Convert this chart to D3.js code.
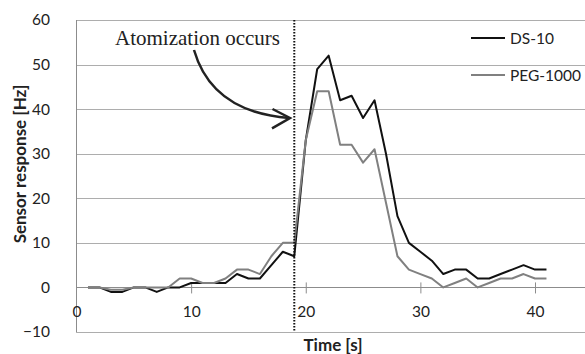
<!DOCTYPE html>
<html>
<head>
<meta charset="utf-8">
<script src="https://cdn.jsdelivr.net/npm/d3@7"></script>
<style>
  html, body { margin: 0; padding: 0; background: #fff; }
  svg { display: block; }
</style>
</head>
<body>
<svg id="chart" width="585" height="354"></svg>
<script>
// Sensor response over time for two formulations
const time = d3.range(1, 42);
const ds10 = [0, 0, -1, -1, 0, 0, -1, 0, 0, 1, 1, 1, 1, 3, 2, 2, 5, 8, 7, 33,
  49, 52, 42, 43, 38, 42, 30, 16, 10, 8, 6, 3, 4, 4, 2, 2, 3, 4, 5, 4, 4];
const peg1000 = [0, 0, -0.5, -0.5, 0, 0, 0, 0, 2, 2, 1, 1, 2, 4, 4, 3, 7, 10, 10, 33,
  44, 44, 32, 32, 28, 31, 19, 7, 4, 3, 2, 0, 1, 2, 0, 1, 2, 2, 3, 2, 2];
const seriesNames = ["DS-10", "PEG-1000"];
const seriesColors = ["#111111", "#808080"];
const xTicks = [0, 10, 20, 30, 40];
const yTicks = [-10, 0, 10, 20, 30, 40, 50, 60];
const atomizationTime = 19;

const svg = d3.select("#chart");
const plotLeft = 76.5, plotRight = 585, plotTop = 20, plotBottom = 332;

const x = d3.scaleLinear().domain([0, 40]).range([plotLeft, 535]);
const y = d3.scaleLinear().domain([-10, 60]).range([plotBottom, plotTop]);

const labelFont = "Lato, 'Open Sans', sans-serif";

// horizontal gridlines
svg.append("g")
  .selectAll("line")
  .data(yTicks)
  .join("line")
  .attr("x1", plotLeft).attr("x2", plotRight)
  .attr("y1", d => Math.round(y(d)) + 0.5).attr("y2", d => Math.round(y(d)) + 0.5)
  .attr("stroke", d => d === 0 ? "#8c8c8c" : "#adadad")
  .attr("stroke-width", 1);

// vertical axis line
svg.append("line")
  .attr("x1", plotLeft).attr("x2", plotLeft)
  .attr("y1", plotTop).attr("y2", plotBottom + 0.5)
  .attr("stroke", "#8c8c8c");

// y tick labels
const yAxis = d3.axisLeft(y).tickValues(yTicks).tickSize(0).tickPadding(0);
const gy = svg.append("g").attr("transform", "translate(50,0)").call(yAxis);
gy.select(".domain").remove();
gy.selectAll("text")
  .attr("font-family", labelFont).attr("font-size", 15.5).attr("fill", "#222");

// x axis on the zero line, ticks crossing it
const xAxis = d3.axisBottom(x).tickValues(xTicks).tickSize(0).tickFormat(d3.format("d"));
const gx = svg.append("g").attr("transform", `translate(0,${y(0)})`).call(xAxis);
gx.select(".domain").remove();
gx.selectAll("text")
  .attr("font-family", labelFont).attr("font-size", 15.5).attr("fill", "#222")
  .attr("dy", 0).attr("y", 30);
gx.selectAll(".tick")
  .filter(d => d !== 0)
  .append("line")
  .attr("y1", -5).attr("y2", 6)
  .attr("stroke", "#8c8c8c");

// axis titles
svg.append("text")
  .attr("x", 333).attr("y", 351)
  .attr("text-anchor", "middle")
  .attr("font-family", labelFont).attr("font-weight", "bold").attr("font-size", 17)
  .attr("fill", "#222")
  .text("Time [s]");

svg.append("text")
  .attr("transform", "translate(26,164) rotate(-90)")
  .attr("text-anchor", "middle")
  .attr("font-family", labelFont).attr("font-weight", "bold").attr("font-size", 17)
  .attr("fill", "#222")
  .text("Sensor response [Hz]");

// series lines
const line = d3.line().x((d, i) => x(time[i])).y(d => y(d));
[ds10, peg1000].forEach((vals, k) => {
  svg.append("path")
    .datum(vals)
    .attr("d", line)
    .attr("fill", "none")
    .attr("stroke", seriesColors[k])
    .attr("stroke-width", 2)
    .attr("stroke-linejoin", "round");
});

// atomization marker
svg.append("line")
  .attr("x1", x(atomizationTime)).attr("x2", x(atomizationTime))
  .attr("y1", plotTop).attr("y2", plotBottom)
  .attr("stroke", "#111").attr("stroke-width", 2)
  .attr("stroke-dasharray", "1.5,1.5");

svg.append("text")
  .attr("x", 115).attr("y", 45)
  .attr("font-family", "'Liberation Serif', 'Times New Roman', serif")
  .attr("font-size", 21).attr("fill", "#222")
  .text("Atomization occurs");

svg.append("path")
  .attr("d", "M194,50 Q212,112 289,118")
  .attr("fill", "none").attr("stroke", "#222").attr("stroke-width", 2.5);
svg.append("path")
  .attr("d", "M272.5,109 L290,118 L272,128.3")
  .attr("fill", "none").attr("stroke", "#222").attr("stroke-width", 2.5);

// legend
const legend = svg.append("g");
seriesNames.forEach((name, k) => {
  const ly = 38 + k * 37;
  legend.append("line")
    .attr("x1", 471).attr("x2", 505).attr("y1", ly).attr("y2", ly)
    .attr("stroke", seriesColors[k]).attr("stroke-width", 2);
  legend.append("text")
    .attr("x", 510).attr("y", ly).attr("dy", "0.36em")
    .attr("font-family", labelFont).attr("font-size", 15.5).attr("fill", "#222")
    .text(name);
});
</script>
</body>
</html>
